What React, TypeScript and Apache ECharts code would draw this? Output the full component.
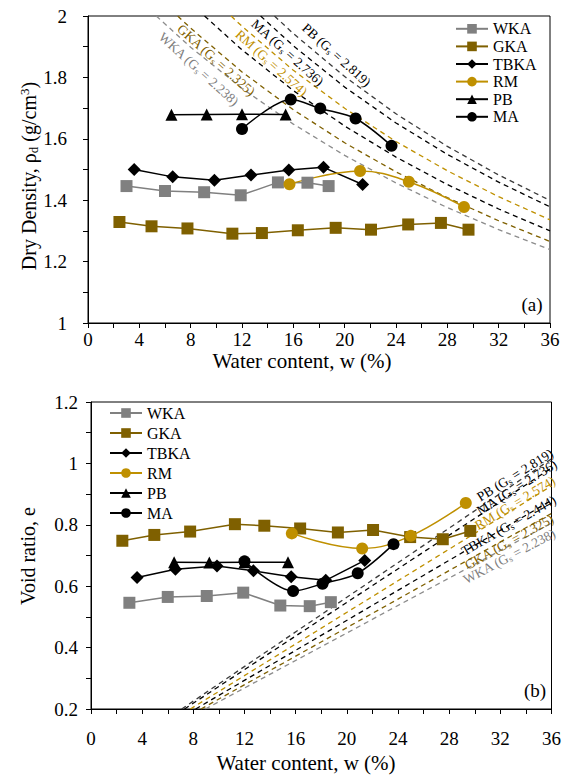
import React, { useEffect, useRef } from 'react';
import * as echarts from 'echarts';

const FONT = "'Liberation Serif', 'Times New Roman', Times, serif";

const names = ['WKA', 'GKA', 'TBKA', 'RM', 'PB', 'MA'];

// Measured data: water content (%), dry density (g/cm3), void ratio
const wkaW = [3.0, 6.0, 9.05, 11.9, 14.8, 17.1, 18.75];
const wkaRho = [1.446, 1.43, 1.426, 1.416, 1.458, 1.457, 1.446];
const wkaE = [0.546, 0.565, 0.568, 0.579, 0.537, 0.535, 0.548];

const gkaW = [2.45, 4.95, 7.75, 11.25, 13.55, 16.35, 19.3, 22.05, 24.95, 27.5, 29.65];
const gkaRho = [1.329, 1.315, 1.308, 1.291, 1.293, 1.302, 1.31, 1.304, 1.321, 1.326, 1.304];
const gkaE = [0.748, 0.767, 0.778, 0.802, 0.797, 0.788, 0.775, 0.783, 0.76, 0.753, 0.78];

const tbkaW = [3.6, 6.6, 9.85, 12.7, 15.65, 18.35, 21.4];
const tbkaRho = [1.5, 1.476, 1.465, 1.482, 1.498, 1.507, 1.451];
const tbkaE = [0.628, 0.655, 0.666, 0.65, 0.631, 0.619, 0.684];

const rmW = [15.7, 21.2, 25.0, 29.3];
const rmRho = [1.452, 1.495, 1.46, 1.378];
const rmE = [0.772, 0.723, 0.764, 0.871];

const pbW = [6.5, 9.25, 12.0, 15.4];
const pbRho = [1.678, 1.679, 1.68, 1.679];
const pbE = [0.678, 0.677, 0.678, 0.678];

const maW = [12.0, 15.8, 18.1, 20.85, 23.65];
const maRho = [1.632, 1.728, 1.699, 1.666, 1.577];
const maE = [0.681, 0.584, 0.608, 0.642, 0.737];

// Saturation (zero air voids) lines
const zavRhoWKA = [[5.32, 2], [8, 1.8982], [12, 1.7642], [16, 1.6479], [20, 1.546], [24, 1.456], [28, 1.3759], [32, 1.3041], [36, 1.2394]];
const zavRhoGKA = [[6.99, 2], [8, 1.9604], [12, 1.8178], [16, 1.6946], [20, 1.587], [24, 1.4923], [28, 1.4082], [32, 1.3331], [36, 1.2656]];
const zavRhoTBKA = [[9.08, 2], [12, 1.8898], [16, 1.757], [20, 1.6416], [24, 1.5404], [28, 1.4511], [32, 1.3714], [36, 1.3001]];
const zavRhoRM = [[11.15, 2], [12, 1.9666], [16, 1.8232], [20, 1.6993], [24, 1.5911], [28, 1.4959], [32, 1.4114], [36, 1.336]];
const zavRhoMA = [[13.45, 2], [16, 1.903], [20, 1.7684], [24, 1.6515], [28, 1.5492], [32, 1.4588], [36, 1.3784]];
const zavRhoPB = [[14.53, 2], [16, 1.9428], [20, 1.8027], [24, 1.6814], [28, 1.5754], [32, 1.4821], [36, 1.3991]];

const zavEWKA = [[8.94, 0.2], [36, 0.8057]];
const zavEGKA = [[8.6, 0.2], [36, 0.837]];
const zavETBKA = [[8.18, 0.2], [36, 0.8798]];
const zavERM = [[7.77, 0.2], [36, 0.9266]];
const zavEMA = [[7.31, 0.2], [36, 0.985]];
const zavEPB = [[7.09, 0.2], [36, 1.0148]];

const colors: Record<string, string> = {
  WKA: '#808080',
  GKA: '#7F6000',
  TBKA: '#000000',
  RM: '#BF9000',
  PB: '#000000',
  MA: '#000000',
};
const zavColors: Record<string, string> = {
  WKA: '#8c8c8c',
  GKA: '#7F6000',
  TBKA: '#000000',
  RM: '#BF9000',
  MA: '#000000',
  PB: '#3a3a3a',
};
const symbols: Record<string, string> = {
  WKA: 'rect',
  GKA: 'rect',
  TBKA: 'diamond',
  RM: 'circle',
  PB: 'triangle',
  MA: 'circle',
};

function zip(xs: number[], ys: number[]) {
  return xs.map((x, i) => [x, ys[i]]);
}

function dataSeries(name: string, idx: number, xs: number[], ys: number[], smooth: number | boolean) {
  return {
    type: 'line',
    name,
    xAxisIndex: idx,
    yAxisIndex: idx,
    data: zip(xs, ys),
    symbol: symbols[name],
    symbolSize: name === 'TBKA' ? 13 : 12,
    itemStyle: { color: colors[name] },
    lineStyle: { color: colors[name], width: 1.5 },
    smooth,
    z: 5,
  };
}

function zavSeries(key: string, idx: number, data: number[][]) {
  return {
    type: 'line',
    name: 'zav-' + key + '-' + idx,
    xAxisIndex: idx,
    yAxisIndex: idx,
    data,
    symbol: 'none',
    showSymbol: false,
    silent: true,
    lineStyle: { color: zavColors[key], width: 1.3, type: [5, 4] },
    z: 2,
  };
}

function rotText(text: string, x: number, y: number, deg: number, color: string) {
  return {
    type: 'text',
    x,
    y,
    rotation: (deg * Math.PI) / 180,
    z: 10,
    style: {
      text,
      fill: color,
      fontFamily: FONT,
      fontSize: 13.5,
      align: 'center',
      verticalAlign: 'middle',
      rich: {
        s: { fontSize: 9, fontFamily: FONT, fill: color, padding: [6, 0, 0, 0] },
      },
    },
  };
}

function plainText(text: string, x: number, y: number, size: number, rotation = 0) {
  return {
    type: 'text',
    x,
    y,
    rotation,
    style: { text, fill: '#000', fontFamily: FONT, fontSize: size, align: 'center', verticalAlign: 'middle' },
  };
}

function xAxis(idx: number, margin: number) {
  return {
    type: 'value',
    gridIndex: idx,
    min: 0,
    max: 36,
    interval: 4,
    axisLine: { show: true, onZero: false, lineStyle: { color: '#000', width: 1 } },
    axisTick: { show: true, inside: false, length: 5, lineStyle: { color: '#000' } },
    minorTick: { show: true, splitNumber: 2, length: 5, lineStyle: { color: '#000' } },
    splitLine: { show: false },
    minorSplitLine: { show: false },
    axisLabel: { fontFamily: FONT, fontSize: 19, color: '#000', margin },
  };
}

function yAxis(idx: number, min: number, max: number, margin: number) {
  return {
    type: 'value',
    gridIndex: idx,
    min,
    max,
    interval: 0.2,
    axisLine: { show: true, onZero: false, lineStyle: { color: '#000', width: 1 } },
    axisTick: { show: true, inside: false, length: 5, lineStyle: { color: '#000' } },
    minorTick: { show: true, splitNumber: 2, length: 5, lineStyle: { color: '#000' } },
    splitLine: { show: false },
    minorSplitLine: { show: false },
    axisLabel: {
      fontFamily: FONT,
      fontSize: 19,
      color: '#000',
      margin,
      formatter: (v: number) => String(Math.round(v * 10) / 10),
    },
  };
}

export default function App() {
  const ref = useRef<HTMLDivElement>(null);
  useEffect(() => {
    document.body.style.margin = '0';
    const chart = echarts.init(ref.current!, null, { renderer: 'svg' });
    const legendBase = {
      orient: 'vertical',
      data: names,
      itemWidth: 32,
      itemHeight: 12,
      padding: 0,
      itemGap: 0,
      selectedMode: false,
    };
    const topLabels = [
      rotText('PB (G{s|s} = 2.819)', 336.5, 55, -42, '#000'),
      rotText('MA (G{s|s} = 2.736)', 287.5, 52.5, -42, '#000'),
      rotText('RM (G{s|s} = 2.574)', 271.5, 63, -42, colors.RM),
      rotText('GKA (G{s|s} = 2.325)', 216, 60, -42, colors.GKA),
      rotText('WKA (G{s|s} = 2.238)', 198.5, 69, -42, colors.WKA),
    ];
    const botLabels = [
      rotText('PB (G{s|s} = 2.819)', 515, 475, 32, '#000'),
      rotText('MA (G{s|s} = 2.736)', 516.5, 487.5, 32, '#000'),
      rotText('RM (G{s|s} = 2.574)', 515, 503, 31, colors.RM),
      rotText('TBKA (G{s|s} = 2.444)', 508.5, 525.5, 30, '#000'),
      rotText('GKA (G{s|s} = 2.325)', 509, 542, 29, colors.GKA),
      rotText('WKA (G{s|s} = 2.238)', 509, 556.5, 28, colors.WKA),
    ];
    chart.setOption({
      animation: false,
      backgroundColor: '#fff',
      textStyle: { fontFamily: FONT },
      grid: [
        { left: 88, top: 16, width: 462, height: 307, show: true, borderColor: '#000', borderWidth: 1, backgroundColor: 'transparent' },
        { left: 91, top: 402, width: 464, height: 307, show: true, borderColor: '#000', borderWidth: 1, backgroundColor: 'transparent' },
      ],
      xAxis: [xAxis(0, 7), xAxis(1, 20)],
      yAxis: [yAxis(0, 1, 2, 21), yAxis(1, 0.2, 1.2, 13)],
      legend: [
        { ...legendBase, left: 455, top: 20, textStyle: { fontFamily: FONT, fontSize: 16, color: '#000', lineHeight: 17.6 } },
        { ...legendBase, left: 109, top: 403, textStyle: { fontFamily: FONT, fontSize: 16, color: '#000', lineHeight: 20 } },
      ],
      graphic: [
        ...topLabels,
        ...botLabels,
        {
          type: 'text',
          x: 29,
          y: 176,
          rotation: Math.PI / 2,
          style: {
            text: 'Dry Density, ρ{sub|d} (g/cm{sup|3})',
            fill: '#000',
            fontFamily: FONT,
            fontSize: 20,
            align: 'center',
            verticalAlign: 'middle',
            rich: {
              sub: { fontSize: 13, fontFamily: FONT, fill: '#000', padding: [9, 0, 0, 0] },
              sup: { fontSize: 13, fontFamily: FONT, fill: '#000', padding: [0, 0, 9, 0] },
            },
          },
        },
        plainText('Void ratio, e', 28, 556, 20, Math.PI / 2),
        plainText('Water content, w (%)', 302, 361, 21),
        plainText('Water content, w (%)', 306, 763, 21),
        plainText('(a)', 532, 304, 19),
        plainText('(b)', 535, 690, 19),
      ],
      series: [
        zavSeries('WKA', 0, zavRhoWKA),
        zavSeries('GKA', 0, zavRhoGKA),
        zavSeries('TBKA', 0, zavRhoTBKA),
        zavSeries('RM', 0, zavRhoRM),
        zavSeries('MA', 0, zavRhoMA),
        zavSeries('PB', 0, zavRhoPB),
        zavSeries('WKA', 1, zavEWKA),
        zavSeries('GKA', 1, zavEGKA),
        zavSeries('TBKA', 1, zavETBKA),
        zavSeries('RM', 1, zavERM),
        zavSeries('MA', 1, zavEMA),
        zavSeries('PB', 1, zavEPB),
        dataSeries('WKA', 0, wkaW, wkaRho, false),
        dataSeries('GKA', 0, gkaW, gkaRho, false),
        dataSeries('TBKA', 0, tbkaW, tbkaRho, false),
        dataSeries('RM', 0, rmW, rmRho, 0.4),
        dataSeries('PB', 0, pbW, pbRho, false),
        dataSeries('MA', 0, maW, maRho, 0.3),
        dataSeries('WKA', 1, wkaW, wkaE, false),
        dataSeries('GKA', 1, gkaW, gkaE, false),
        dataSeries('TBKA', 1, tbkaW, tbkaE, false),
        dataSeries('RM', 1, rmW, rmE, 0.4),
        dataSeries('PB', 1, pbW, pbE, false),
        dataSeries('MA', 1, maW, maE, 0.3),
      ],
    });
    return () => chart.dispose();
  }, []);
  return (
    <div
      ref={ref}
      style={{ position: 'absolute', left: 0, top: 0, width: 564, height: 776, background: '#fff' }}
    />
  );
}
